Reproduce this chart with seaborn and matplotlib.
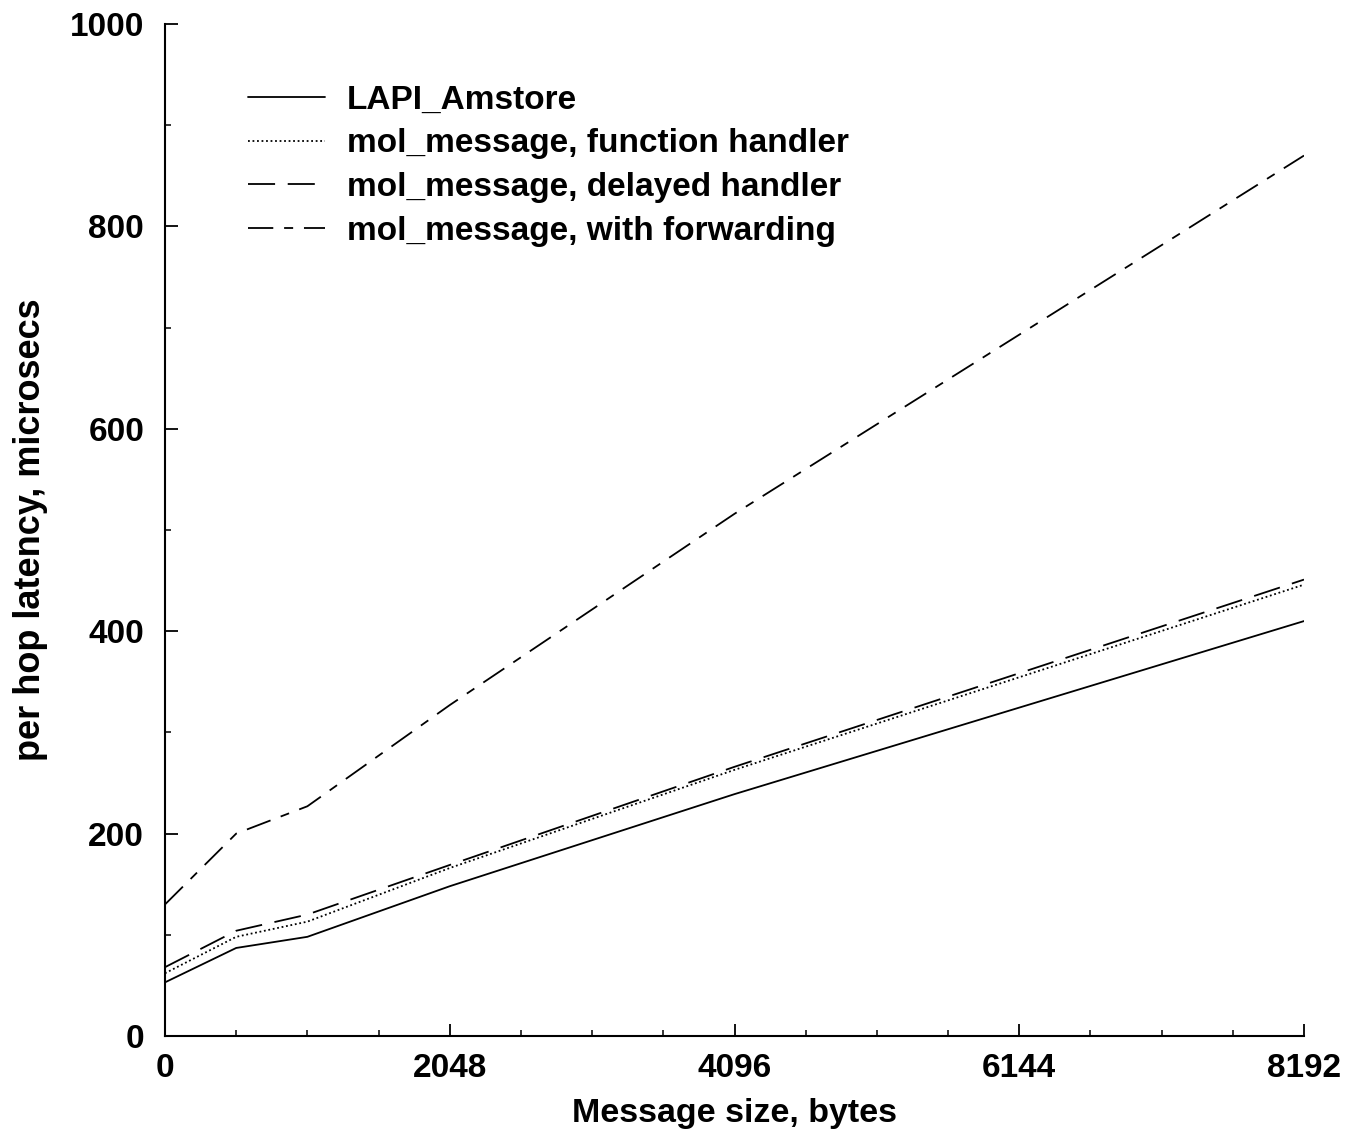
import matplotlib
matplotlib.use("Agg")
import matplotlib.pyplot as plt
import seaborn as sns
import pandas as pd
from matplotlib.ticker import MultipleLocator, FixedLocator

sns.set_theme(style="white")
plt.rcParams['font.family'] = ['Liberation Sans', 'DejaVu Sans']
plt.rcParams['font.weight'] = 'bold'
plt.rcParams['text.color'] = 'black'
plt.rcParams['axes.labelcolor'] = 'black'
plt.rcParams['xtick.color'] = 'black'
plt.rcParams['ytick.color'] = 'black'

sizes = [0, 512, 1024, 2048, 4096, 8192]
lapi_amstore = [53, 87, 98, 148, 239, 410]
mol_function = [62, 98, 113, 166, 263, 446]
mol_delayed = [68, 104, 120, 169, 266, 451]
mol_forwarding = [130, 200, 227, 327, 516, 870]

series_names = ["LAPI_Amstore", "mol_message, function handler",
                "mol_message, delayed handler", "mol_message, with forwarding"]
series_values = [lapi_amstore, mol_function, mol_delayed, mol_forwarding]

x_ticks = [0, 2048, 4096, 6144, 8192]
y_ticks = [0, 200, 400, 600, 800, 1000]

rows = []
for name, vals in zip(series_names, series_values):
    for s, v in zip(sizes, vals):
        rows.append({"size": s, "latency": v, "series": name})
df = pd.DataFrame(rows)

fig = plt.figure(figsize=(13.6, 11.36), dpi=100)
ax = fig.add_axes([165/1360, 1 - 1036/1136, (1304-165)/1360, (1036-24)/1136])

dashes = {
    series_names[0]: "",
    series_names[1]: (1.0, 1.5),
    series_names[2]: (15, 7),
    series_names[3]: (14, 6, 5, 6),
}
sns.lineplot(data=df, x="size", y="latency", hue="series", style="series",
             hue_order=series_names, style_order=series_names,
             palette=["black"] * 4, dashes=dashes, linewidth=1.3, ax=ax,
             legend=True)

ax.set_xlim(0, 8192)
ax.set_ylim(0, 1000)
ax.xaxis.set_major_locator(FixedLocator(x_ticks))
ax.xaxis.set_minor_locator(MultipleLocator(512))
ax.yaxis.set_major_locator(FixedLocator(y_ticks))
ax.yaxis.set_minor_locator(MultipleLocator(100))
ax.set_xticklabels([str(t) for t in x_ticks])
ax.set_yticklabels([str(t) for t in y_ticks])

for s in ["top", "right"]:
    ax.spines[s].set_visible(False)
for s in ["left", "bottom"]:
    ax.spines[s].set_color("black")
    ax.spines[s].set_linewidth(1.5)

ax.tick_params(axis="both", which="major", direction="in", length=9, width=1.3,
               labelsize=24, color="black", labelcolor="black")
ax.tick_params(axis="both", which="minor", direction="in", length=4.5, width=1.1,
               color="black")
ax.tick_params(axis="y", which="major", pad=15)
ax.tick_params(axis="x", which="major", pad=12)
ax.tick_params(axis="both", which="both", bottom=True, left=True)

ax.set_xlabel("Message size, bytes", fontsize=24.5, fontweight="bold",
              labelpad=10, color="black")
ax.set_ylabel("per hop latency, microsecs", fontsize=26, fontweight="bold",
              labelpad=16, color="black")

leg = ax.legend(loc="upper left", bbox_to_anchor=(0.073, 0.940), frameon=False,
                fontsize=24, handlelength=2.3, handletextpad=0.66,
                labelspacing=0.38, borderpad=0, borderaxespad=0)
for t in leg.get_texts():
    t.set_fontweight("bold")
    t.set_color("black")
for l in leg.get_lines():
    l.set_linewidth(1.3)

fig.savefig("out.png", dpi=100)
